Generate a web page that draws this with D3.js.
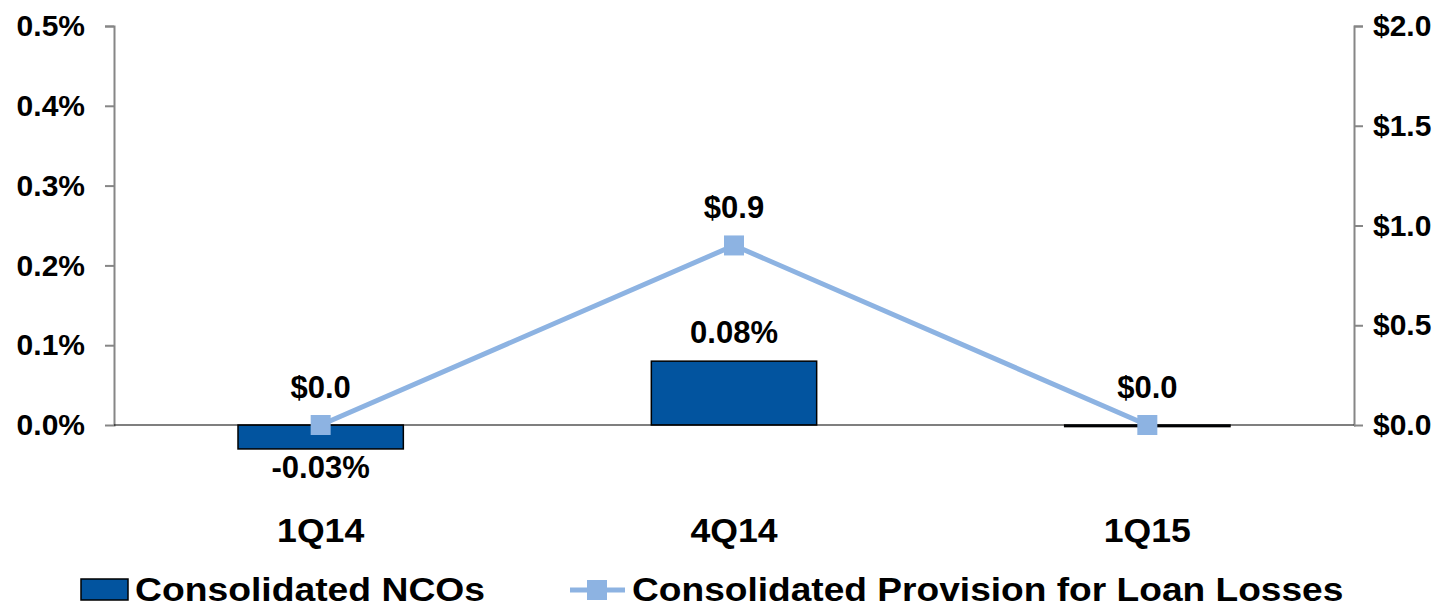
<!DOCTYPE html>
<html>
<head>
<meta charset="utf-8">
<script src="https://cdn.jsdelivr.net/npm/d3@7"></script>
<style>
  html, body { margin: 0; padding: 0; background: #fff; }
  svg text { font-family: "Liberation Sans", Arial, sans-serif; font-weight: bold; fill: #000; }
</style>
</head>
<body>
<svg id="chart" width="1453" height="607"></svg>
<script>
// Quarterly credit quality data
const quarters = ["1Q14", "4Q14", "1Q15"];
const ncoRates = [-0.03, 0.08, -0.002];          // Consolidated NCOs, % of loans
const ncoLabels = ["-0.03%", "0.08%", null];
const provisions = [0.0, 0.9, 0.0];               // Consolidated Provision for Loan Losses, $M
const provisionLabels = ["$0.0", "$0.9", "$0.0"];
const leftTicks = [0, 0.1, 0.2, 0.3, 0.4, 0.5];
const rightTicks = [0, 0.5, 1.0, 1.5, 2.0];
const seriesNames = ["Consolidated NCOs", "Consolidated Provision for Loan Losses"];

const barColor = "#02549F";
const lineColor = "#8DB3E2";
const axisColor = "#868686";

const svg = d3.select("#chart");
const plot = { left: 114, right: 1354, top: 26, bottom: 425 };

const x = d3.scaleBand().domain(quarters)
  .range([plot.left, plot.right]).paddingInner(0.6).paddingOuter(0.3);
const yLeft = d3.scaleLinear().domain([0, 0.5]).range([plot.bottom, plot.top]);
const yRight = d3.scaleLinear().domain([0, 2.0]).range([plot.bottom, plot.top]);

// Left axis
const leftAxis = svg.append("g").attr("transform", `translate(${plot.left},0)`)
  .call(d3.axisLeft(yLeft).tickValues(leftTicks).tickSize(9).tickPadding(20)
    .tickFormat(d => d.toFixed(1) + "%"));
leftAxis.select(".domain").attr("stroke", axisColor).attr("stroke-width", 2);
leftAxis.selectAll(".tick line").attr("stroke", axisColor).attr("stroke-width", 2);
leftAxis.selectAll(".tick text").attr("font-size", 30).attr("font-family", null)
  .style("font-family", "'Liberation Sans', Arial, sans-serif");

// Right axis
const rightAxis = svg.append("g").attr("transform", `translate(${plot.right},0)`)
  .call(d3.axisRight(yRight).tickValues(rightTicks).tickSize(9).tickPadding(10)
    .tickFormat(d => "$" + d.toFixed(1)));
rightAxis.select(".domain").attr("stroke", axisColor).attr("stroke-width", 2);
rightAxis.selectAll(".tick line").attr("stroke", axisColor).attr("stroke-width", 2);
rightAxis.selectAll(".tick text").attr("font-size", 30).attr("font-family", null)
  .style("font-family", "'Liberation Sans', Arial, sans-serif");
svg.selectAll(".domain").attr("d", function () {
  return d3.select(this).attr("d").replace(/^M[-\d.]+,/, "M0,");
});

// Bars
svg.append("g").selectAll("rect").data(quarters).join("rect")
  .attr("x", d => x(d))
  .attr("width", x.bandwidth())
  .attr("y", (d, i) => Math.min(yLeft(ncoRates[i]), yLeft(0)))
  .attr("height", (d, i) => Math.abs(yLeft(ncoRates[i]) - yLeft(0)))
  .attr("fill", barColor)
  .attr("stroke", "#000")
  .attr("stroke-width", 1.5);

// Zero line
svg.append("line")
  .attr("x1", plot.left).attr("x2", plot.right)
  .attr("y1", yLeft(0)).attr("y2", yLeft(0))
  .attr("stroke", "#000").attr("stroke-width", 1.2);

// Bar value labels
svg.append("g").selectAll("text").data(quarters.filter((d, i) => ncoLabels[i]))
  .join("text")
  .attr("x", d => x(d) + x.bandwidth() / 2)
  .attr("y", d => {
    const v = ncoRates[quarters.indexOf(d)];
    return v >= 0 ? yLeft(v) - 29 : yLeft(v) + 19;
  })
  .attr("text-anchor", "middle").attr("dominant-baseline", "central")
  .attr("font-size", 31)
  .text(d => ncoLabels[quarters.indexOf(d)]);

// Provision line
const cx = d => x(d) + x.bandwidth() / 2;
svg.append("path")
  .datum(quarters)
  .attr("d", d3.line().x(cx).y((d, i) => yRight(provisions[i])))
  .attr("fill", "none").attr("stroke", lineColor).attr("stroke-width", 5);

svg.append("g").selectAll("rect").data(quarters).join("rect")
  .attr("x", d => cx(d) - 10)
  .attr("y", (d, i) => yRight(provisions[i]) - 10)
  .attr("width", 20).attr("height", 20)
  .attr("fill", lineColor);

svg.append("g").selectAll("text").data(quarters).join("text")
  .attr("x", cx)
  .attr("y", (d, i) => yRight(provisions[i]) - 38)
  .attr("text-anchor", "middle").attr("dominant-baseline", "central")
  .attr("font-size", 31)
  .text((d, i) => provisionLabels[i]);

// Category labels
svg.append("g").selectAll("text").data(quarters).join("text")
  .attr("transform", d => `translate(${cx(d)},530) scale(1.08,1)`)
  .attr("text-anchor", "middle").attr("dominant-baseline", "central")
  .attr("font-size", 33)
  .text(d => d);

// Legend
const legend = svg.append("g");
legend.append("rect")
  .attr("x", 81).attr("y", 579).attr("width", 47).attr("height", 21)
  .attr("fill", barColor).attr("stroke", "#000").attr("stroke-width", 1.5);
legend.append("text")
  .attr("transform", "translate(135,589) scale(1.13,1)")
  .attr("dominant-baseline", "central").attr("font-size", 33)
  .text(seriesNames[0]);
legend.append("line")
  .attr("x1", 570).attr("x2", 625).attr("y1", 590).attr("y2", 590)
  .attr("stroke", lineColor).attr("stroke-width", 5);
legend.append("rect")
  .attr("x", 587).attr("y", 580).attr("width", 20).attr("height", 20)
  .attr("fill", lineColor);
legend.append("text")
  .attr("transform", "translate(632,589) scale(1.125,1)")
  .attr("dominant-baseline", "central").attr("font-size", 33)
  .text(seriesNames[1]);
</script>
</body>
</html>
